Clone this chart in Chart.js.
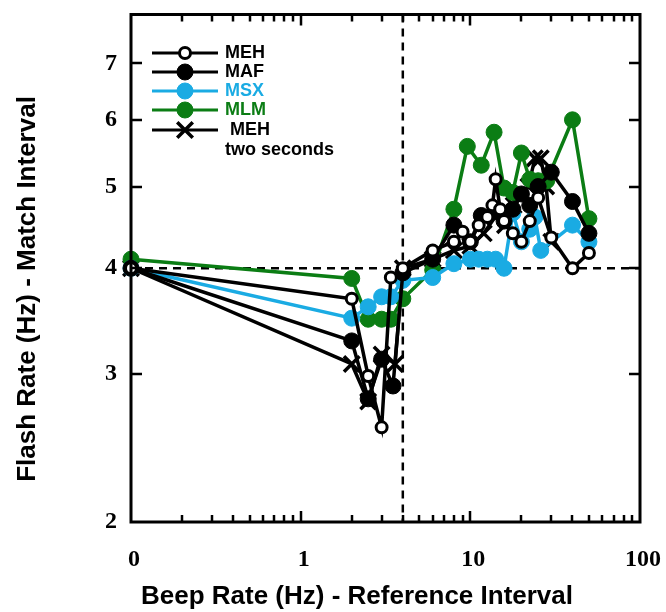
<!DOCTYPE html>
<html>
<head>
<meta charset="utf-8">
<script src="https://cdn.jsdelivr.net/npm/chart.js@4.4.0/dist/chart.umd.min.js"></script>
<style>
  html, body { margin: 0; padding: 0; background: #fff; }
</style>
</head>
<body>
<canvas id="chart" width="666" height="612"></canvas>
<script>
// beep rate (Hz) of the reference interval; 0 sits at the left edge of the log axis
const mehX = [0, 2, 2.5, 3, 3.4, 4, 6, 8, 9, 10, 11.2, 12.6, 13.5, 14.1, 15, 15.8, 17.8, 20, 22.4, 25.1, 30, 40, 50];
const mehY = [4.0, 3.68, 2.98, 2.59, 3.9, 4.0, 4.2, 4.3, 4.42, 4.3, 4.5, 4.6, 4.75, 5.1, 4.7, 4.55, 4.4, 4.3, 4.55, 4.85, 4.35, 4.0, 4.17];

const mafX = [0, 2, 2.5, 3, 3.5, 4, 6, 8, 10, 11.6, 14.1, 15.8, 17.8, 20, 22.4, 25.1, 30, 40, 50];
const mafY = [4.0, 3.28, 2.8, 3.12, 2.9, 3.95, 4.1, 4.5, 4.3, 4.62, 4.7, 4.55, 4.7, 4.9, 4.75, 5.0, 5.2, 4.8, 4.4];

const msxX = [0, 2, 2.5, 3, 3.4, 4, 6, 8, 10, 11.2, 12.6, 14.1, 15.8, 17.8, 20, 22.4, 24, 26, 40, 50];
const msxY = [4.0, 3.49, 3.6, 3.7, 3.7, 3.87, 3.9, 4.05, 4.1, 4.1, 4.1, 4.1, 4.0, 4.65, 4.3, 4.45, 4.6, 4.2, 4.5, 4.3];

const mlmX = [0, 2, 2.5, 3, 3.4, 4, 6, 8, 9.6, 11.6, 13.8, 15.8, 17.8, 20, 22.4, 25.1, 28.2, 40, 50];
const mlmY = [4.1, 3.89, 3.48, 3.48, 3.48, 3.68, 3.98, 4.7, 5.58, 5.3, 5.8, 4.98, 4.92, 5.48, 5.1, 5.08, 5.08, 6.0, 4.58];

const meh2X = [0, 2, 2.5, 3, 3.6, 4, 6, 8, 10, 12, 14, 16, 18, 20, 22, 24, 26, 28, 30];
const meh2Y = [4.0, 3.08, 2.78, 3.16, 3.08, 4.0, 4.1, 4.2, 4.25, 4.4, 4.6, 4.5, 4.75, 4.9, 5.0, 5.4, 5.4, 5.0, 4.3];

const xTickValues = [0.1, 1, 10, 100];
const xTickLabels = ['0', '1', '10', '100'];
const yTickValues = [2, 3, 4, 5, 6, 7];
const refBeep = 4;
const refFlash = 4;

const BLACK = '#000000';
const BLUE = '#1AABE3';
const GREEN = '#0B7D14';
const ZERO_AT = 0.1;

function pts(xs, ys) {
    return xs.map((x, i) => ({ x: x === 0 ? ZERO_AT : x, y: ys[i] }));
}

function series(label, xs, ys, color, style) {
    const open = style === 'open';
    const cross = style === 'cross';
    return {
        label: label,
        data: pts(xs, ys),
        borderColor: color,
        borderWidth: 3.5,
        pointStyle: cross ? 'crossRot' : 'circle',
        pointRadius: cross ? 11 : (open ? 5.5 : 8),
        pointBorderWidth: cross ? 3.5 : (open ? 3 : 1),
        pointBorderColor: color,
        pointBackgroundColor: open ? '#ffffff' : color,
        clip: false,
        tension: 0,
    };
}

const datasets = [
    series('MEH', mehX, mehY, BLACK, 'open'),
    series('MAF', mafX, mafY, BLACK, 'filled'),
    series('MSX', msxX, msxY, BLUE, 'filled'),
    series('MLM', mlmX, mlmY, GREEN, 'filled'),
    series('MEH two seconds', meh2X, meh2Y, BLACK, 'cross'),
];

const legendRows = [
    { text: 'MEH', color: BLACK, ds: 0, y: 53 },
    { text: 'MAF', color: BLACK, ds: 1, y: 72 },
    { text: 'MSX', color: BLUE, ds: 2, y: 91 },
    { text: 'MLM', color: GREEN, ds: 3, y: 110 },
    { text: ' MEH', color: BLACK, ds: 4, y: 130 },
];

const sansBold = '"Liberation Sans", Arial, Helvetica, sans-serif';
const serifBold = '"Liberation Serif", "DejaVu Serif", serif';

function noPad(s) {
    s.paddingLeft = 0; s.paddingRight = 0; s.paddingTop = 0; s.paddingBottom = 0;
}

const framePlugin = {
    id: 'frame',
    beforeDatasetsDraw(chart) {
        const { ctx, chartArea: a, scales: { x, y } } = chart;
        ctx.save();
        ctx.strokeStyle = '#000';
        ctx.lineWidth = 2.5;
        ctx.setLineDash([8, 6]);
        const vx = x.getPixelForValue(refBeep);
        ctx.beginPath(); ctx.moveTo(vx, a.top); ctx.lineTo(vx, a.bottom); ctx.stroke();
        const hy = y.getPixelForValue(refFlash);
        ctx.beginPath(); ctx.moveTo(a.left, hy); ctx.lineTo(a.right, hy); ctx.stroke();
        ctx.restore();
    },
    afterDraw(chart) {
        const { ctx, chartArea: a, scales: { x, y } } = chart;
        ctx.save();
        ctx.strokeStyle = '#000';
        ctx.lineWidth = 3;
        ctx.strokeRect(a.left, a.top, a.right - a.left, a.bottom - a.top);

        // inward ticks
        ctx.lineWidth = 2.5;
        ctx.beginPath();
        [0.1, 1, 10].forEach(dec => {
            for (let k = 1; k <= 10; k++) {
                const v = dec * k;
                if (v <= 0.1 || v >= 100) continue;
                const px = Math.round(x.getPixelForValue(v));
                const len = k === 10 || k === 1 ? 11 : 7;
                ctx.moveTo(px, a.bottom); ctx.lineTo(px, a.bottom - len);
                ctx.moveTo(px, a.top); ctx.lineTo(px, a.top + len);
            }
        });
        yTickValues.forEach(v => {
            const py = Math.round(y.getPixelForValue(v));
            if (v === 2) return;
            ctx.moveTo(a.left, py); ctx.lineTo(a.left + 11, py);
            ctx.moveTo(a.right, py); ctx.lineTo(a.right - 11, py);
        });
        ctx.stroke();

        // legend
        legendRows.forEach(row => {
            const ds = chart.data.datasets[row.ds];
            ctx.strokeStyle = ds.borderColor;
            ctx.lineWidth = 3;
            ctx.beginPath(); ctx.moveTo(152, row.y); ctx.lineTo(218, row.y); ctx.stroke();
            ctx.fillStyle = ds.pointBackgroundColor;
            ctx.strokeStyle = ds.pointBorderColor;
            ctx.lineWidth = ds.pointBorderWidth;
            Chart.helpers.drawPoint(ctx, {
                pointStyle: ds.pointStyle, radius: ds.pointRadius,
                borderWidth: ds.pointBorderWidth, rotation: 0
            }, 185, row.y);
            ctx.fillStyle = row.color;
            ctx.font = 'bold 18px ' + sansBold;
            ctx.textAlign = 'left';
            ctx.textBaseline = 'middle';
            ctx.fillText(row.text, 225, row.y);
        });
        ctx.fillStyle = BLACK;
        ctx.fillText('two seconds', 225, 150);

        // axis titles
        ctx.font = 'bold 26px ' + sansBold;
        ctx.textAlign = 'center';
        ctx.textBaseline = 'middle';
        ctx.fillText('Beep Rate (Hz) - Reference Interval', 357, 597);
        ctx.translate(28, 289);
        ctx.rotate(-Math.PI / 2);
        ctx.fillText('Flash Rate (Hz) - Match Interval', 0, 0);
        ctx.restore();
    }
};

new Chart(document.getElementById('chart'), {
    type: 'line',
    data: { datasets: datasets },
    options: {
        responsive: false,
        animation: false,
        layout: { padding: { top: 12, right: 26, left: 0, bottom: 0 } },
        plugins: { legend: { display: false }, tooltip: { enabled: false } },
        scales: {
            x: {
                type: 'logarithmic',
                min: 0.1,
                max: 100,
                border: { display: false },
                grid: { display: false, drawTicks: false },
                afterBuildTicks: s => { s.ticks = xTickValues.map(v => ({ value: v })); },
                afterFit: s => { s.height = 90; noPad(s); },
                ticks: {
                    autoSkip: false,
                    maxRotation: 0,
                    padding: 23,
                    labelOffset: 3,
                    color: '#000',
                    font: { family: serifBold, weight: 'bold', size: 24 },
                    callback: function (v) {
                        const i = xTickValues.findIndex(t => Math.abs(t - v) < 1e-9);
                        return i >= 0 ? xTickLabels[i] : '';
                    }
                }
            },
            y: {
                type: 'logarithmic',
                min: 2,
                max: 8,
                border: { display: false },
                grid: { display: false, drawTicks: false },
                afterBuildTicks: s => { s.ticks = yTickValues.map(v => ({ value: v })); },
                afterFit: s => { s.width = 131; noPad(s); },
                ticks: {
                    autoSkip: false,
                    padding: 14,
                    color: '#000',
                    font: { family: serifBold, weight: 'bold', size: 24 },
                    callback: v => String(v)
                }
            }
        }
    },
    plugins: [framePlugin]
});
</script>
</body>
</html>
